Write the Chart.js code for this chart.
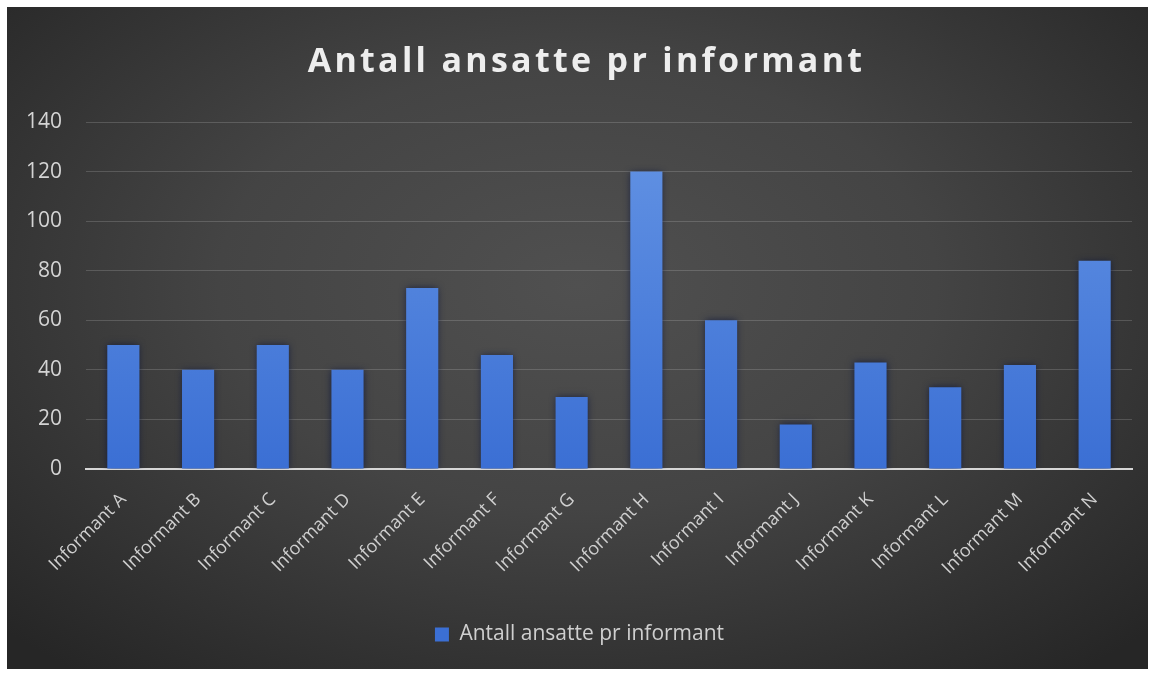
<!DOCTYPE html>
<html>
<head>
<meta charset="utf-8">
<script src="https://cdn.jsdelivr.net/npm/chart.js@4.4.1/dist/chart.umd.min.js"></script>
<style>
  html, body { margin: 0; padding: 0; background: #ffffff; }
  #wrap {
    position: absolute; left: 7px; top: 7px; width: 1141px; height: 662px;
    background: radial-gradient(ellipse 70% 75% at 50% 42%, #505050 0%, #444444 45%, #2e2e2e 85%, #262626 100%);
  }
  canvas { display: block; }
</style>
</head>
<body>
<div id="wrap"><canvas id="c" width="1141" height="662"></canvas></div>
<script>
const chartTitle = "Antall ansatte pr informant";
const categories = ["Informant A","Informant B","Informant C","Informant D","Informant E","Informant F","Informant G","Informant H","Informant I","Informant J","Informant K","Informant L","Informant M","Informant N"];
const seriesName = "Antall ansatte pr informant";
const values = [50, 40, 50, 40, 73, 46, 29, 120, 60, 18, 43, 33, 42, 84];
const yTicks = [0, 20, 40, 60, 80, 100, 120, 140];

const titlePlugin = {
  id: 'spacedTitle',
  afterDraw(chart) {
    const ctx = chart.ctx;
    ctx.save();
    ctx.font = "bold 34px 'Open Sans'";
    ctx.fillStyle = "#eeeeee";
    ctx.textAlign = "center";
    ctx.textBaseline = "middle";
    try { ctx.letterSpacing = "3.3px"; } catch (e) {}
    ctx.fillText(chartTitle, chart.width / 2 + 9, 55);
    ctx.restore();
  }
};

const shadowPlugin = {
  id: 'barShadow',
  beforeDatasetsDraw(chart) {
    const ctx = chart.ctx;
    ctx.save();
    ctx.shadowColor = "rgba(10,20,60,0.75)";
    ctx.shadowBlur = 7;
    ctx.shadowOffsetX = 0;
    ctx.shadowOffsetY = 0;
  },
  afterDatasetsDraw(chart) {
    chart.ctx.restore();
  }
};

function barGradient(context) {
  const chart = context.chart;
  const area = chart.chartArea;
  if (!area) return "#4a7ddb";
  const g = chart.ctx.createLinearGradient(0, area.top, 0, area.bottom);
  g.addColorStop(0, "#6494e4");
  g.addColorStop(1, "#3b6fd4");
  return g;
}

new Chart(document.getElementById('c'), {
  type: 'bar',
  data: {
    labels: categories,
    datasets: [{
      label: seriesName,
      data: values,
      backgroundColor: barGradient,
      borderWidth: 0,
      categoryPercentage: 1.0,
      barPercentage: 0.43
    }]
  },
  plugins: [titlePlugin, shadowPlugin],
  options: {
    responsive: false,
    animation: false,
    devicePixelRatio: 1,
    layout: { padding: { top: 115, left: 20, right: 16, bottom: 14 } },
    plugins: {
      title: { display: false },
      tooltip: { enabled: false },
      legend: {
        display: true,
        position: 'bottom',
        labels: {
          color: "#cfcfcf",
          font: { family: "'Open Sans'", size: 21 },
          boxWidth: 14,
          boxHeight: 14,
          padding: 10
        }
      }
    },
    scales: {
      x: {
        afterFit(scale) { scale.height = 145; },
        grid: { display: false, drawTicks: false },
        border: { display: true, color: "#d6d6d6", width: 2 },
        ticks: {
          color: "#cfcfcf",
          font: { family: "'Open Sans'", size: 18 },
          minRotation: 45,
          maxRotation: 45,
          padding: 20
        }
      },
      y: {
        min: 0,
        max: 140,
        afterFit(scale) { scale.width = 59; },
        afterBuildTicks(scale) { scale.ticks = yTicks.map(v => ({ value: v })); },
        grid: { color: "rgba(255,255,255,0.16)", lineWidth: 1, drawTicks: false },
        border: { display: false },
        ticks: {
          color: "#d4d4d4",
          font: { family: "'Open Sans'", size: 21 },
          padding: 24
        }
      }
    }
  }
});
</script>
</body>
</html>
